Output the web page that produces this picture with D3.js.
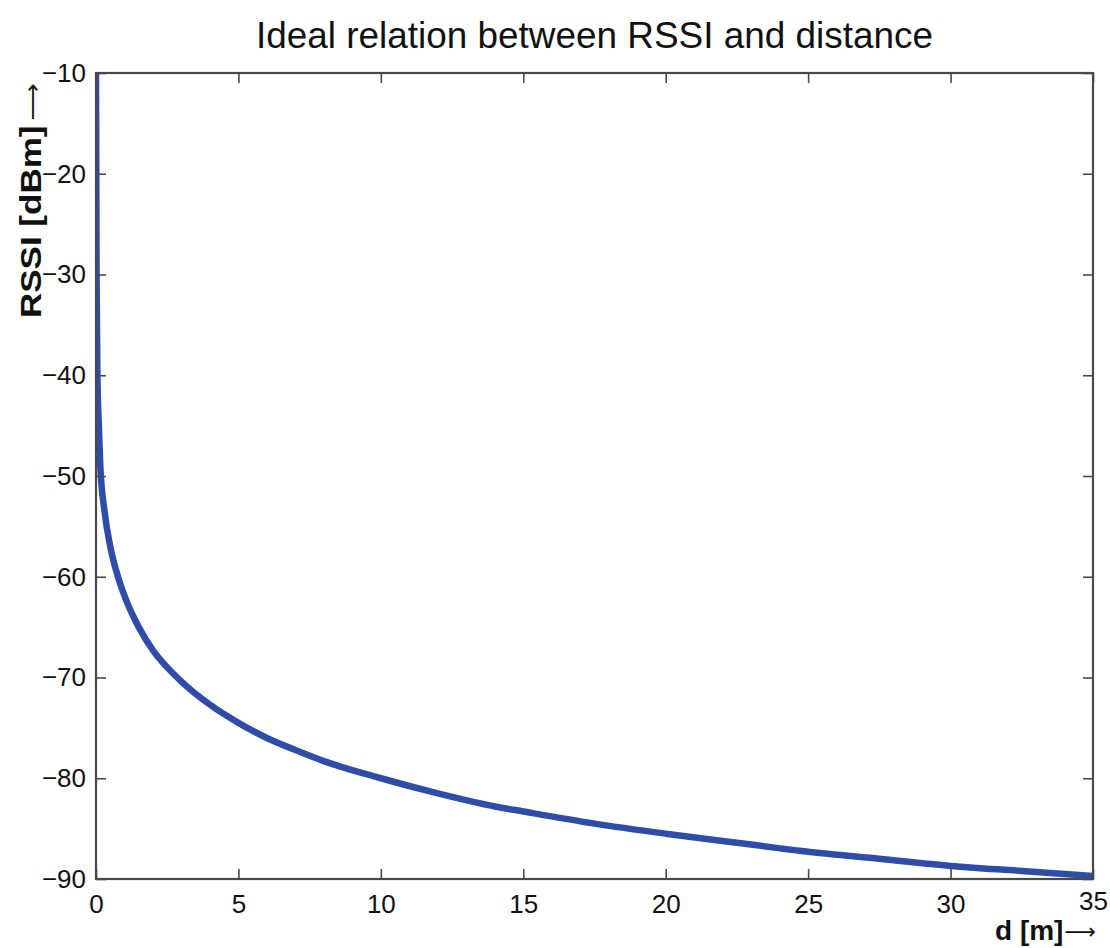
<!DOCTYPE html>
<html>
<head>
<meta charset="utf-8">
<script src="https://cdn.jsdelivr.net/npm/d3@7"></script>
<style>
  body { margin: 0; background: #fff; }
  svg { display: block; }
  text { font-family: "Liberation Sans", Arial, sans-serif; fill: #111; }
</style>
</head>
<body>
<div id="chart"></div>
<script>
// Data: distance d [m] and RSSI [dBm]
const distance = [0, 0.02, 0.05, 0.1, 0.15, 0.3, 0.5, 0.75, 1, 1.5, 2, 2.5, 3, 4, 5, 6, 7, 8, 10, 12, 14, 15, 17.5, 20, 22.5, 25, 27.5, 30, 32.5, 35];
const rssi = [-10, -30, -40, -45, -49, -53.5, -57, -59.8, -61.9, -65, -67.3, -69, -70.4, -72.7, -74.5, -76, -77.2, -78.3, -80, -81.5, -82.8, -83.3, -84.5, -85.5, -86.4, -87.3, -88, -88.7, -89.2, -89.7];
const xTicks = [0, 5, 10, 15, 20, 25, 30, 35];
const yTicks = [-90, -80, -70, -60, -50, -40, -30, -20, -10];

const title = "Ideal relation between RSSI and distance";
const xLabel = "d [m]";
const yLabel = "RSSI [dBm]";

// Layout
const width = 1110, height = 948;
const margin = {top: 73, right: 17, bottom: 69, left: 96};
const innerW = width - margin.left - margin.right,
    innerH = height - margin.top - margin.bottom;
const axisColor = "#4a4a4a";
const tickLen = 10;

const svg = d3.select("#chart")
    .append("svg")
    .attr("width", width)
    .attr("height", height);

const g = svg.append("g")
    .attr("transform", "translate(" + margin.left + "," + margin.top + ")");

const x = d3.scaleLinear().domain([0, 35]).range([0, innerW]);
const y = d3.scaleLinear().domain([-90, -10]).range([innerH, 0]);

// Curve
const points = distance.map((d, i) => [d, rssi[i]]);
const line = d3.line()
    .x(d => x(d[0]))
    .y(d => y(d[1]))
    .curve(d3.curveMonotoneX);

g.append("clipPath").attr("id", "plot-clip")
    .append("rect").attr("x", -1).attr("y", -1).attr("width", innerW + 2).attr("height", innerH + 2);

g.append("path")
    .datum(points)
    .attr("clip-path", "url(#plot-clip)")
    .attr("fill", "none")
    .attr("stroke", "#2f4da8")
    .attr("stroke-width", 6.5)
    .attr("stroke-linejoin", "round")
    .attr("d", line);

// Axes (ticks pointing inward, mirrored on top and right)
const fmt = d3.format("d");

const xBottom = g.append("g")
    .attr("transform", "translate(0," + innerH + ")")
    .call(d3.axisBottom(x).tickValues(xTicks).tickSizeInner(-tickLen).tickSizeOuter(0).tickPadding(16).tickFormat(fmt));
const xTop = g.append("g")
    .call(d3.axisTop(x).tickValues(xTicks).tickSizeInner(-tickLen).tickSizeOuter(0).tickFormat(""));
const yLeft = g.append("g")
    .call(d3.axisLeft(y).tickValues(yTicks).tickSizeInner(-tickLen).tickSizeOuter(0).tickPadding(10).tickFormat(fmt));
const yRight = g.append("g")
    .attr("transform", "translate(" + innerW + ",0)")
    .call(d3.axisRight(y).tickValues(yTicks).tickSizeInner(-tickLen).tickSizeOuter(0).tickFormat(""));

[xBottom, xTop, yLeft, yRight].forEach(a => {
    a.select(".domain").remove();
    a.selectAll(".tick line").attr("stroke", axisColor).attr("stroke-width", 1.6);
    a.selectAll(".tick text")
        .attr("font-size", 26)
        .attr("font-family", "Liberation Sans, Arial, sans-serif")
        .attr("fill", "#222");
});
// last x label sits a little higher, next to the axis label
xBottom.selectAll(".tick text").filter(d => d === 35).attr("dy", "0.56em");

// Frame
g.append("rect")
    .attr("width", innerW)
    .attr("height", innerH)
    .attr("fill", "none")
    .attr("stroke", axisColor)
    .attr("stroke-width", 2.2);

// Title
svg.append("text")
    .attr("x", margin.left + innerW / 2)
    .attr("y", 48)
    .attr("text-anchor", "middle")
    .attr("font-size", 36)
    .attr("textLength", 677)
    .attr("lengthAdjust", "spacingAndGlyphs")
    .text(title);

// X label
const xl = svg.append("text")
    .attr("x", 1096)
    .attr("y", 940)
    .attr("text-anchor", "end")
    .attr("font-size", 28);
xl.append("tspan").attr("font-weight", "bold").text(xLabel);
xl.append("tspan").attr("font-family", "DejaVu Sans").attr("font-size", 22).attr("dx", 1).attr("dy", -1).text("\u27F6");

// Y label (glyph height slightly condensed like the reference)
const yl = svg.append("text")
    .attr("transform", "translate(41,318) scale(0.86,1) rotate(-90)")
    .attr("text-anchor", "start")
    .attr("font-size", 35);
yl.append("tspan").attr("font-weight", "bold").text(yLabel);
yl.append("tspan").attr("font-family", "DejaVu Sans").attr("font-size", 26).attr("dx", 5).attr("dy", -1).text("\u27F6");
</script>
</body>
</html>
